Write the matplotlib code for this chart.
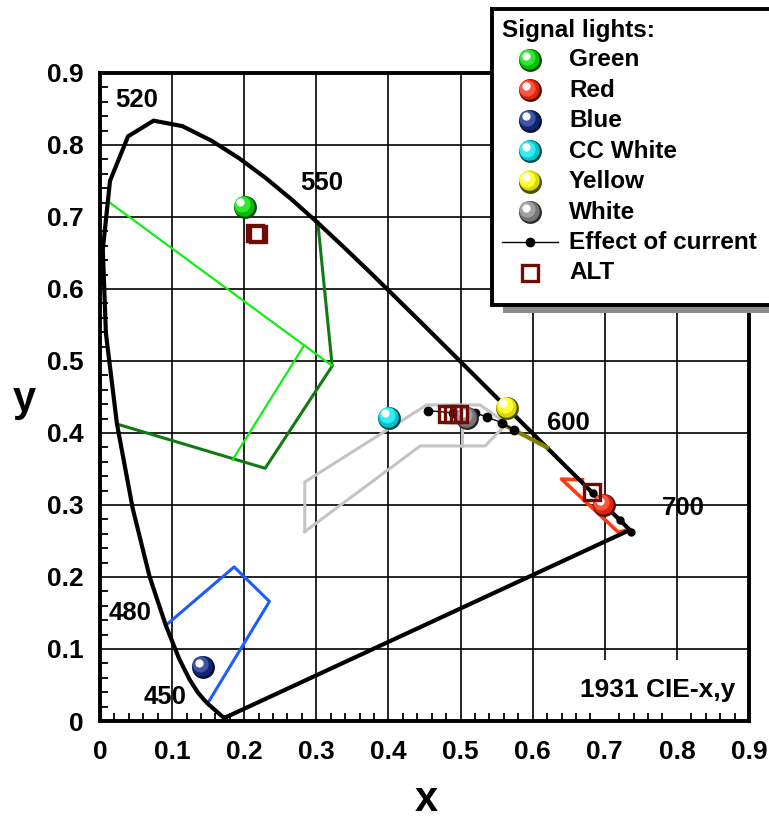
import numpy as np
import matplotlib
matplotlib.use("Agg")
import matplotlib.pyplot as plt
from matplotlib.colors import to_rgb
from matplotlib.patches import Rectangle
from matplotlib.transforms import offset_copy

plt.rcParams['font.family'] = ['Liberation Sans', 'DejaVu Sans']
plt.rcParams['font.weight'] = 'bold'

# CIE 1931 spectral locus, 5 nm steps (380 - 700 nm)
locus_x = [0.1741, 0.1740, 0.1738, 0.1736, 0.1733, 0.1730, 0.1726, 0.1721, 0.1714, 0.1703,
           0.1689, 0.1669, 0.1644, 0.1611, 0.1566, 0.1510, 0.1440, 0.1355, 0.1241, 0.1096,
           0.0913, 0.0687, 0.0454, 0.0235, 0.0082, 0.0039, 0.0139, 0.0389, 0.0743, 0.1142,
           0.1547, 0.1929, 0.2296, 0.2658, 0.3016, 0.3373, 0.3731, 0.4087, 0.4441, 0.4788,
           0.5125, 0.5448, 0.5752, 0.6029, 0.6270, 0.6482, 0.6658, 0.6801, 0.6915, 0.7006,
           0.7079, 0.7140, 0.7190, 0.7230, 0.7260, 0.7283, 0.7300, 0.7311, 0.7320, 0.7327,
           0.7334, 0.7340, 0.7344, 0.7346, 0.7347]
locus_y = [0.0050, 0.0050, 0.0049, 0.0049, 0.0048, 0.0048, 0.0048, 0.0048, 0.0051, 0.0058,
           0.0069, 0.0086, 0.0109, 0.0138, 0.0177, 0.0227, 0.0297, 0.0399, 0.0578, 0.0868,
           0.1327, 0.2007, 0.2950, 0.4127, 0.5384, 0.6548, 0.7502, 0.8120, 0.8338, 0.8262,
           0.8059, 0.7816, 0.7543, 0.7243, 0.6923, 0.6589, 0.6245, 0.5896, 0.5547, 0.5202,
           0.4866, 0.4544, 0.4242, 0.3965, 0.3725, 0.3514, 0.3340, 0.3197, 0.3083, 0.2993,
           0.2920, 0.2859, 0.2809, 0.2770, 0.2740, 0.2717, 0.2700, 0.2689, 0.2680, 0.2673,
           0.2666, 0.2660, 0.2656, 0.2654, 0.2653]

wl_labels = ['520', '550', '600', '700', '480', '450']
wl_x = [0.051, 0.308, 0.649, 0.809, 0.042, 0.090]
wl_y = [0.862, 0.747, 0.414, 0.296, 0.150, 0.033]

# signal colour boundaries
green_dark_x = [0.302, 0.322, 0.229, 0.025]
green_dark_y = [0.693, 0.493, 0.351, 0.412]
green_light_x = [0.012, 0.321]
green_light_y = [0.721, 0.494]
green_light2_x = [0.282, 0.184]
green_light2_y = [0.520, 0.363]
blue_x = [0.0915, 0.186, 0.235, 0.149]
blue_y = [0.133, 0.214, 0.166, 0.024]
white_x = [0.284, 0.284, 0.453, 0.527, 0.564, 0.534, 0.444, 0.284]
white_y = [0.263, 0.332, 0.439, 0.439, 0.413, 0.382, 0.382, 0.263]
white_div_x = [0.502, 0.502]
white_div_y = [0.382, 0.418]
red_x = [0.669, 0.640, 0.719, 0.733]
red_y = [0.335, 0.336, 0.262, 0.266]
yellow_x = [0.555, 0.620]
yellow_y = [0.414, 0.380]

# measured signal lights
ball_names = ['Green', 'Red', 'Blue', 'CC White', 'Yellow', 'White']
ball_x = [0.201, 0.699, 0.143, 0.401, 0.565, 0.509]
ball_y = [0.714, 0.300, 0.075, 0.421, 0.435, 0.421]
ball_colors = ['#00e000', '#ff2a10', '#102a8a', '#00e8f0', '#ffff00', '#8a8a8a']

cur_white_x = [0.455, 0.490, 0.520, 0.537, 0.558, 0.574]
cur_white_y = [0.431, 0.428, 0.428, 0.422, 0.414, 0.404]
cur_red_x = [0.683, 0.700, 0.721, 0.737]
cur_red_y = [0.317, 0.300, 0.279, 0.263]

alt_x = [0.215, 0.219, 0.481, 0.490, 0.498, 0.682]
alt_y = [0.678, 0.677, 0.426, 0.426, 0.426, 0.318]

ticks = np.round(np.arange(0, 0.91, 0.1), 1)
tick_labels = ['0' if t == 0 else '%.1f' % t for t in ticks]

ALT_COL = '#6e0c08'


def ball(ax, x, y, color, s=270, z=5):
    rgb = np.array(to_rgb(color))
    fig = ax.figure
    layers = [(1.0, rgb * 0.3, 0, 0),
              (0.80, rgb * 0.85, -0.9, 0.9),
              (0.50, rgb * 0.8 + 0.2, -1.9, 1.9),
              (0.13, np.ones(3), -3.2, 3.2)]
    for i, (f, c, dx, dy) in enumerate(layers):
        tr = offset_copy(ax.transData, fig=fig, x=dx, y=dy, units='points')
        ax.scatter(x, y, s=s * f, color=np.clip(c, 0, 1), transform=tr,
                   linewidths=0, zorder=z + i * 0.01)


fig = plt.figure(figsize=(7.69, 8.21), dpi=100)
ax = fig.add_axes([100 / 769, 1 - 721 / 821, 649 / 769, 648 / 821])
ax.set_xlim(0, 0.9)
ax.set_ylim(0, 0.9)
ax.set_xticks(ticks)
ax.set_yticks(ticks)
ax.set_xticklabels(tick_labels)
ax.set_yticklabels(tick_labels)
ax.set_xticks(np.arange(0, 0.9, 0.02), minor=True)
ax.set_yticks(np.arange(0, 0.9, 0.02), minor=True)
ax.tick_params(which='major', length=0, labelsize=19, pad=12)
ax.tick_params(axis='x', which='major', pad=14)
ax.tick_params(which='minor', direction='in', length=6, width=1.3,
               top=False, right=False)
for sp in ax.spines.values():
    sp.set_linewidth(2.8)

for t in ticks[1:-1]:
    ax.axvline(t, color='black', lw=1.2, zorder=0.8)
    ax.axhline(t, color='black', lw=1.2, zorder=0.8)

# white box behind the diagram title
ax.add_patch(Rectangle((0.617, 0), 0.9 - 0.617, 0.085, facecolor='white',
                       edgecolor='none', zorder=0.9))
ax.text(0.881, 0.043, '1931 CIE-x,y', fontsize=19, ha='right', va='center',
        zorder=1)

ax.plot(locus_x + [locus_x[0]], locus_y + [locus_y[0]], color='black',
        lw=3, zorder=3)

ax.plot(white_x, white_y, color='#c4c4c4', lw=2.2, zorder=2)
ax.plot(white_div_x, white_div_y, color='#c4c4c4', lw=2.2, zorder=2)
ax.plot(green_dark_x, green_dark_y, color='#127a12', lw=2.2, zorder=2)
ax.plot(green_light_x, green_light_y, color='#10f010', lw=1.6, zorder=2.1)
ax.plot(green_light2_x, green_light2_y, color='#10f010', lw=1.6, zorder=2.1)
ax.plot(blue_x, blue_y, color='#1f5cff', lw=2.2, zorder=2)
ax.plot(red_x, red_y, color='#ff3a10', lw=2.6, zorder=2)
ax.plot(yellow_x, yellow_y, color='#808000', lw=3, zorder=3.5)

for lab, x, y in zip(wl_labels, wl_x, wl_y):
    ax.text(x, y, lab, fontsize=18.5, ha='center', va='center', zorder=4)

ax.plot(cur_white_x, cur_white_y, color='black', lw=1, marker='o', ms=6,
        zorder=4)
ax.plot(cur_red_x, cur_red_y, color='black', lw=1.5, marker='o', ms=5,
        zorder=4)

for x, y, c in zip(ball_x, ball_y, ball_colors):
    ball(ax, x, y, c)

ax.plot(alt_x, alt_y, ls='none', marker='s', ms=11, mfc='none',
        mec=ALT_COL, mew=2.4, zorder=6)

fig.text(24 / 769, 1 - 400 / 821, 'y', fontsize=30, ha='center', va='center')
fig.text(426 / 769, 1 - 800 / 821, 'x', fontsize=30, ha='center', va='center')

# legend box with shadow
fig.patches.append(Rectangle((503 / 769, 1 - 313 / 821), 300 / 769, 290 / 821,
                             facecolor='#8c8c8c', edgecolor='none',
                             transform=fig.transFigure, zorder=1))
ax.set_zorder(0)
lax = fig.add_axes([492 / 769, 1 - 305 / 821, 300 / 769, 296 / 821])
lax.set_zorder(2)
lax.set_xlim(492, 792)
lax.set_ylim(305, 9)
lax.set_xticks([])
lax.set_yticks([])
for sp in lax.spines.values():
    sp.set_linewidth(2.8)

lax.text(502, 30, 'Signal lights:', fontsize=17.5, ha='left', va='center')
row_y = [60 + 30.4 * i for i in range(8)]
for i, (name, c) in enumerate(zip(ball_names, ball_colors)):
    ball(lax, 530, row_y[i], c)
    lax.text(569, row_y[i], name, fontsize=17.5, ha='left', va='center')
lax.plot([502, 558], [row_y[6], row_y[6]], color='black', lw=1)
lax.plot([530], [row_y[6]], 'o', color='black', ms=6)
lax.text(569, row_y[6], 'Effect of current', fontsize=17.5, ha='left',
         va='center')
lax.plot([530], [row_y[7]], ls='none', marker='s', ms=11, mfc='none',
         mec=ALT_COL, mew=2.4)
lax.text(569, row_y[7], 'ALT', fontsize=17.5, ha='left', va='center')

fig.savefig('out.png', dpi=100)
